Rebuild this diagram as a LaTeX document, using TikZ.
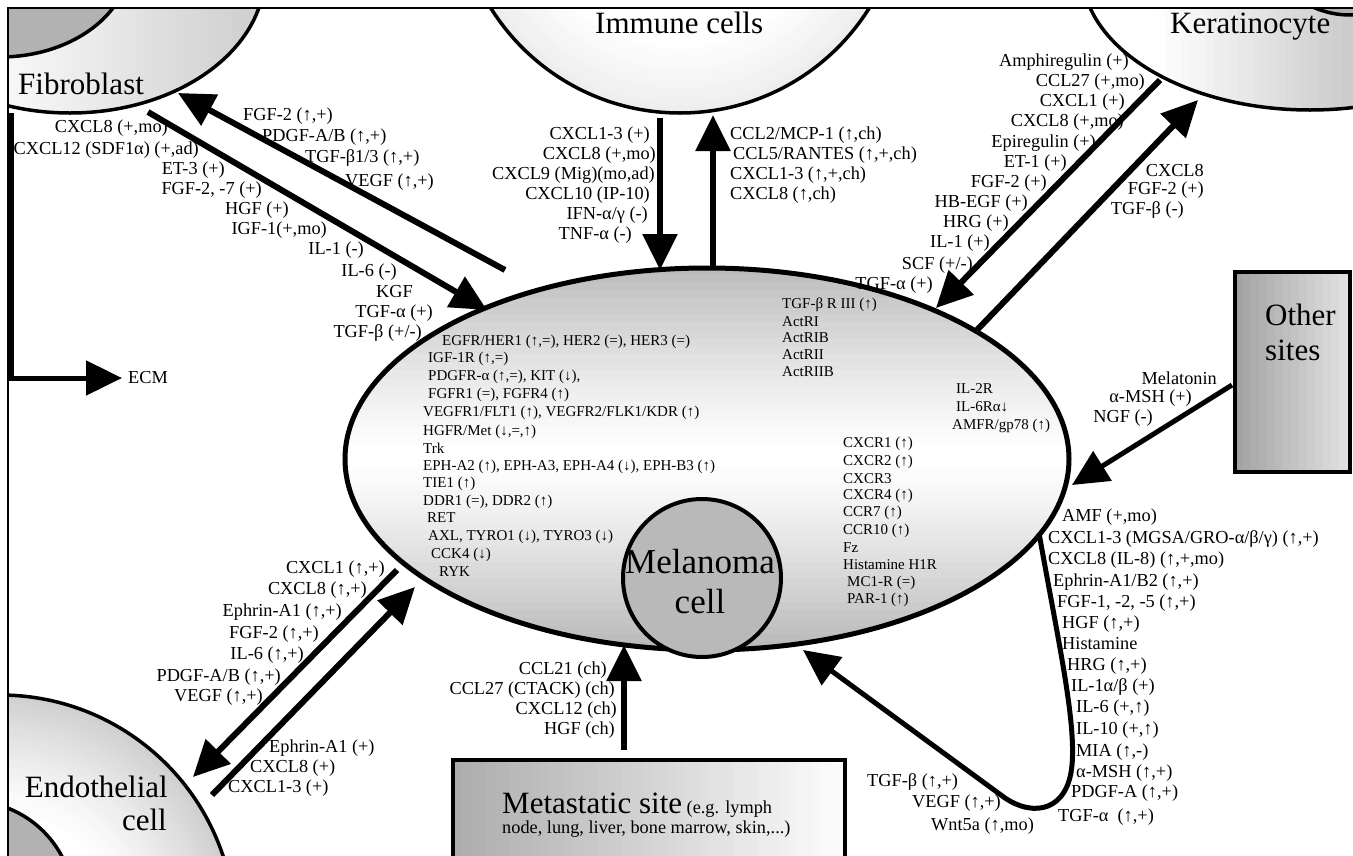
\documentclass[tikz,border=0pt]{standalone}
\usepackage{fontspec}
\setmainfont{Liberation Serif}
\usetikzlibrary{arrows.meta}
\begin{document}
\begin{tikzpicture}[x=1pt,y=-1pt,
  lab/.style={font=\fontsize{18.3}{20}\selectfont, inner sep=0pt},
  sm/.style={font=\fontsize{15}{17}\selectfont, inner sep=0pt},
  big/.style={font=\fontsize{31}{34}\selectfont, inner sep=0pt},
  cellline/.style={draw=black, line width=3.5pt},
  arr/.style={line width=6pt, -{Triangle[length=36pt,width=34pt]}},
]
\useasboundingbox (0,0) rectangle (1353,855);
% ---------- cells (clipped to the frame) ----------
\begin{scope}
\clip (8,8) rectangle (1353,855);
% fibroblast: left-to-right gradient
\begin{scope}
\clip (70,-27) ellipse [x radius=195pt, y radius=140pt];
\foreach \i in {0,...,32} {
  \pgfmathsetmacro\xa{8+\i*8}
  \pgfmathtruncatemacro\p{6+34*\i/32}
  \fill[gray!\p] (\xa,-200) rectangle (\xa+9,130);
}
\end{scope}
\draw[cellline] (70,-27) ellipse [x radius=195pt, y radius=140pt];
\path[cellline, fill=gray!60] (0,-40) ellipse [x radius=130pt, y radius=97pt];
% immune cells: radial gradient
\fill[white] (680,-110) circle [radius=223pt];
\foreach \r in {223,219,...,151} {
  \pgfmathtruncatemacro\p{14*(\r-150)/73}
  \fill[gray!\p] (680,-110) circle [radius=\r pt];
}
\draw[cellline] (680,-110) circle [radius=223pt];
% keratinocyte: left-to-right gradient
\begin{scope}
\clip (1310,-29) ellipse [x radius=228pt, y radius=139pt];
\foreach \i in {0,...,33} {
  \pgfmathsetmacro\xa{1085+\i*8}
  \pgfmathtruncatemacro\p{max(0,42*(\xa-1150)/200)}
  \fill[gray!\p] (\xa,-200) rectangle (\xa+9,130);
}
\end{scope}
\draw[cellline] (1310,-29) ellipse [x radius=228pt, y radius=139pt];
\path[cellline, fill=gray!60] (1350,-75) circle [radius=90pt];
% endothelial: radial gradient
\fill[white] (0,930) circle [radius=235pt];
\foreach \r in {235,231,...,111} {
  \pgfmathtruncatemacro\p{38*((\r-110)/125)^1.3}
  \fill[gray!\p] (0,930) circle [radius=\r pt];
}
\draw[cellline] (0,930) circle [radius=235pt];
\path[cellline, fill=gray!60] (-30,905) circle [radius=104pt];
% metastatic site box
\foreach \i in {0,...,48} {
  \pgfmathsetmacro\xa{453+\i*8}
  \pgfmathtruncatemacro\p{65-62*\i/48}
  \fill[gray!\p] (\xa,760) rectangle (\xa+9,880);
}
\draw[line width=3.5pt] (453,880) -- (453,760) -- (845,760) -- (845,880);
% other sites box
\foreach \i in {0,...,14} {
  \pgfmathsetmacro\xa{1235+\i*8}
  \pgfmathtruncatemacro\p{72-50*\i/14}
  \fill[gray!\p] (\xa,272) rectangle ({min(\xa+9,1350)},472);
}
\draw[line width=4pt] (1235,272) rectangle (1350,472);
\end{scope}
% frame
\draw[line width=1.5pt] (8,860) -- (8,8) -- (1353,8);
% melanoma cell: white band in the middle, grey to top and bottom
\begin{scope}
\clip (707,459) ellipse [x radius=362pt, y radius=191pt];
\foreach \i in {0,...,48} {
  \pgfmathsetmacro\ya{266+\i*8}
  \pgfmathtruncatemacro\p{min(55,55*(abs(\ya+4-455)/190)^1.25)}
  \fill[gray!\p] (340,\ya) rectangle (1075,\ya+9);
}
\end{scope}
\draw[line width=5pt] (707,459) ellipse [x radius=362pt, y radius=191pt];
\path[draw=black, line width=4pt, fill=gray!55] (702,578) circle [radius=79pt];
% ---------- big labels ----------
\node[big, anchor=base west] (tfib) at (18,94) {Fibroblast};
\node[big, anchor=base west] (timm) at (595,33) {Immune cells};
\node[big, anchor=base west] (tker) at (1170,33) {Keratinocyte};
\node[big, anchor=base east] (tend1) at (168,797) {Endothelial};
\node[big, anchor=base east] (tend2) at (167,830) {cell};
\node[font=\fontsize{35}{38}\selectfont, inner sep=0pt, anchor=base] (tmel1) at (700,573) {Melanoma};
\node[font=\fontsize{35}{38}\selectfont, inner sep=0pt, anchor=base] (tmel2) at (700,613) {cell};
\node[big, anchor=base west] (toth1) at (1265,325) {Other};
\node[big, anchor=base west] (toth2) at (1265,360) {sites};
\node[inner sep=0pt, anchor=base west] (tmet1) at (502,813) {{\fontsize{31}{34}\selectfont Metastatic site}{\fontsize{18.3}{20}\selectfont\ (e.g. lymph}};
\node[lab, anchor=base west] (tmet2) at (502,833) {node, lung, liver, bone marrow, skin,...)};
% ---------- connector end points ----------
\coordinate (f1s) at (505,270); \coordinate (f1e) at (178,93);
\coordinate (f2s) at (148,112); \coordinate (f2e) at (487,310);
\coordinate (ecms) at (11,113); \coordinate (ecme) at (122,378);
\coordinate (i1s) at (660,118); \coordinate (i1e) at (660,270);
\coordinate (i2s) at (713,268); \coordinate (i2e) at (713,115);
\coordinate (k1s) at (1160,80); \coordinate (k1e) at (936,308);
\coordinate (k2s) at (977,330); \coordinate (k2e) at (1198,100);
\coordinate (os) at (1232,385); \coordinate (oe) at (1072,485);
\coordinate (e1s) at (397,570); \coordinate (e1e) at (193,777);
\coordinate (e2s) at (212,795); \coordinate (e2e) at (415,587);
\coordinate (ms) at (624,750); \coordinate (me) at (624,645);
\coordinate (lp0) at (1039,533); \coordinate (lp1) at (1072,765);
\coordinate (lp2) at (1005,798); \coordinate (lpe) at (803,650);
% ---------- connectors ----------
\draw[arr] (f1s) -- (f1e);
\draw[arr] (f2s) -- (f2e);
\draw[arr, line width=5pt] (ecms) |- (ecme);
\draw[arr] (i1s) -- (i1e);
\draw[arr] (i2s) -- (i2e);
\draw[arr] (k1s) -- (k1e);
\draw[arr] (k2s) -- (k2e);
\draw[arr, line width=5pt] (os) -- (oe);
\draw[arr] (e1s) -- (e1e);
\draw[arr] (e2s) -- (e2e);
\draw[arr] (ms) -- (me);
\draw[arr, line width=5pt] (lp0) .. controls (1058,640) and (1076,720) .. (lp1) .. controls (1068,810) and (1035,818) .. (lp2) -- (lpe);
% ---------- fibroblast labels ----------
\node[lab, anchor=west] (ecm) at (128,378) {ECM};
\node[lab, anchor=east] (fa1) at (168,128) {CXCL8 (+,mo)};
\node[lab, anchor=east] (fa2) at (199,150) {CXCL12 (SDF1α) (+,ad)};
\node[lab, anchor=east] (fa3) at (225,170) {ET-3 (+)};
\node[lab, anchor=east] (fa4) at (262,190) {FGF-2, -7 (+)};
\node[lab, anchor=east] (fa5) at (289,210) {HGF (+)};
\node[lab, anchor=east] (fa6) at (327,230) {IGF-1(+,mo)};
\node[lab, anchor=east] (fa7) at (364,250) {IL-1 (-)};
\node[lab, anchor=east] (fa8) at (397,272) {IL-6 (-)};
\node[lab, anchor=east] (fa9) at (413,292) {KGF};
\node[lab, anchor=east] (fa10) at (433,313) {TGF-α (+)};
\node[lab, anchor=east] (fa11) at (422,333) {TGF-β (+/-)};
\node[lab, anchor=west] (fb1) at (243,116) {FGF-2 (↑,+)};
\node[lab, anchor=west] (fb2) at (262,137) {PDGF-A/B (↑,+)};
\node[lab, anchor=west] (fb3) at (305,158) {TGF-β1/3 (↑,+)};
\node[lab, anchor=west] (fb4) at (345,182) {VEGF (↑,+)};
% ---------- immune labels ----------
\node[lab, anchor=east] (ia1) at (650,135) {CXCL1-3 (+)};
\node[lab, anchor=east] (ia2) at (656,155) {CXCL8 (+,mo)};
\node[lab, anchor=east] (ia3) at (655,175) {CXCL9 (Mig)(mo,ad)};
\node[lab, anchor=east] (ia4) at (650,195) {CXCL10 (IP-10)};
\node[lab, anchor=east] (ia5) at (648,215) {IFN-α/γ (-)};
\node[lab, anchor=east] (ia6) at (632,235) {TNF-α (-)};
\node[lab, anchor=west] (ib1) at (730,135) {CCL2/MCP-1 (↑,ch)};
\node[lab, anchor=west] (ib2) at (733,155) {CCL5/RANTES (↑,+,ch)};
\node[lab, anchor=west] (ib3) at (730,175) {CXCL1-3 (↑,+,ch)};
\node[lab, anchor=west] (ib4) at (730,195) {CXCL8 (↑,ch)};
% ---------- keratinocyte labels ----------
\node[lab, anchor=east] (ka1) at (1129,62) {Amphiregulin (+)};
\node[lab, anchor=east] (ka2) at (1145,82) {CCL27 (+,mo)};
\node[lab, anchor=east] (ka3) at (1125,102) {CXCL1 (+)};
\node[lab, anchor=east] (ka4) at (1124,122) {CXCL8 (+,mo)};
\node[lab, anchor=east] (ka5) at (1096,143) {Epiregulin (+)};
\node[lab, anchor=east] (ka6) at (1067,163) {ET-1 (+)};
\node[lab, anchor=east] (ka7) at (1047,183) {FGF-2 (+)};
\node[lab, anchor=east] (ka8) at (1028,203) {HB-EGF (+)};
\node[lab, anchor=east] (ka9) at (1009,223) {HRG (+)};
\node[lab, anchor=east] (ka10) at (990,243) {IL-1 (+)};
\node[lab, anchor=east] (ka11) at (973,265) {SCF (+/-)};
\node[lab, anchor=east] (ka12) at (933,285) {TGF-α (+)};
\node[lab, anchor=east] (kb1) at (1204,170) {CXCL8};
\node[lab, anchor=east] (kb2) at (1204,190) {FGF-2 (+)};
\node[lab, anchor=east] (kb3) at (1184,210) {TGF-β (-)};
% ---------- other sites labels ----------
\node[lab, anchor=east] (oa1) at (1217,378) {Melatonin};
\node[lab, anchor=east] (oa2) at (1192,398) {α-MSH (+)};
\node[lab, anchor=east] (oa3) at (1153,418) {NGF (-)};
% ---------- endothelial labels ----------
\node[lab, anchor=east] (ea1) at (385,569) {CXCL1 (↑,+)};
\node[lab, anchor=east] (ea2) at (367,590) {CXCL8 (↑,+)};
\node[lab, anchor=east] (ea3) at (342,612) {Ephrin-A1 (↑,+)};
\node[lab, anchor=east] (ea4) at (319,634) {FGF-2 (↑,+)};
\node[lab, anchor=east] (ea5) at (304,655) {IL-6 (↑,+)};
\node[lab, anchor=east] (ea6) at (281,677) {PDGF-A/B (↑,+)};
\node[lab, anchor=east] (ea7) at (263,697) {VEGF (↑,+)};
\node[lab, anchor=west] (eb1) at (269,748) {Ephrin-A1 (+)};
\node[lab, anchor=west] (eb2) at (250,768) {CXCL8 (+)};
\node[lab, anchor=west] (eb3) at (228,788) {CXCL1-3 (+)};
% ---------- metastatic labels ----------
\node[lab, anchor=east] (ma1) at (607,670) {CCL21 (ch)};
\node[lab, anchor=east] (ma2) at (615,690) {CCL27 (CTACK) (ch)};
\node[lab, anchor=east] (ma3) at (617,710) {CXCL12 (ch)};
\node[lab, anchor=east] (ma4) at (615,730) {HGF (ch)};
% ---------- autocrine labels ----------
\node[lab, anchor=west] (aa1) at (1062,517) {AMF (+,mo)};
\node[lab, anchor=west] (aa2) at (1048,539) {CXCL1-3 (MGSA/GRO-α/β/γ) (↑,+)};
\node[lab, anchor=west] (aa3) at (1048,560) {CXCL8 (IL-8) (↑,+,mo)};
\node[lab, anchor=west] (aa4) at (1053,582) {Ephrin-A1/B2 (↑,+)};
\node[lab, anchor=west] (aa5) at (1057,603) {FGF-1, -2, -5 (↑,+)};
\node[lab, anchor=west] (aa6) at (1062,624) {HGF (↑,+)};
\node[lab, anchor=west] (aa7) at (1062,644) {Histamine};
\node[lab, anchor=west] (aa8) at (1067,666) {HRG (↑,+)};
\node[lab, anchor=west] (aa9) at (1071,687) {IL-1α/β (+)};
\node[lab, anchor=west] (aa10) at (1076,708) {IL-6 (+,↑)};
\node[lab, anchor=west] (aa11) at (1076,730) {IL-10 (+,↑)};
\node[lab, anchor=west] (aa12) at (1076,752) {MIA (↑,-)};
\node[lab, anchor=west] (aa13) at (1076,773) {α-MSH (↑,+)};
\node[lab, anchor=west] (aa14) at (1071,793) {PDGF-A (↑,+)};
\node[lab, anchor=west] (aa15) at (1058,817) {TGF-α\ \ (↑,+)};
\node[lab, anchor=west] (ab1) at (867,782) {TGF-β (↑,+)};
\node[lab, anchor=west] (ab2) at (912,803) {VEGF (↑,+)};
\node[lab, anchor=west] (ab3) at (931,826) {Wnt5a (↑,mo)};
% ---------- receptors ----------
\node[sm, anchor=west] (r1) at (442,342) {EGFR/HER1 (↑,=), HER2 (=), HER3 (=)};
\node[sm, anchor=west] (r2) at (428,359) {IGF-1R (↑,=)};
\node[sm, anchor=west] (r3) at (428,377) {PDGFR-α (↑,=), KIT (↓),};
\node[sm, anchor=west] (r4) at (428,395) {FGFR1 (=), FGFR4 (↑)};
\node[sm, anchor=west] (r5) at (423,413) {VEGFR1/FLT1 (↑), VEGFR2/FLK1/KDR (↑)};
\node[sm, anchor=west] (r6) at (423,432) {HGFR/Met (↓,=,↑)};
\node[sm, anchor=west] (r7) at (423,448) {Trk};
\node[sm, anchor=west] (r8) at (423,467) {EPH-A2 (↑), EPH-A3, EPH-A4 (↓), EPH-B3 (↑)};
\node[sm, anchor=west] (r9) at (423,484) {TIE1 (↑)};
\node[sm, anchor=west] (r10) at (423,502) {DDR1 (=), DDR2 (↑)};
\node[sm, anchor=west] (r11) at (427,518) {RET};
\node[sm, anchor=west] (r12) at (428,537) {AXL, TYRO1 (↓), TYRO3 (↓)};
\node[sm, anchor=west] (r13) at (431,555) {CCK4 (↓)};
\node[sm, anchor=west] (r14) at (439,572) {RYK};
\node[sm, anchor=west] (s1) at (782,305) {TGF-β R III (↑)};
\node[sm, anchor=west] (s2) at (782,322) {ActRI};
\node[sm, anchor=west] (s3) at (782,338) {ActRIB};
\node[sm, anchor=west] (s4) at (782,355) {ActRII};
\node[sm, anchor=west] (s5) at (782,372) {ActRIIB};
\node[sm, anchor=west] (s6) at (956,389) {IL-2R};
\node[sm, anchor=west] (s7) at (956,407) {IL-6Rα↓};
\node[sm, anchor=west] (s8) at (952,426) {AMFR/gp78 (↑)};
\node[sm, anchor=west] (c1) at (843,444) {CXCR1 (↑)};
\node[sm, anchor=west] (c2) at (843,462) {CXCR2 (↑)};
\node[sm, anchor=west] (c3) at (843,479) {CXCR3};
\node[sm, anchor=west] (c4) at (843,496) {CXCR4 (↑)};
\node[sm, anchor=west] (c5) at (843,513) {CCR7 (↑)};
\node[sm, anchor=west] (c6) at (843,531) {CCR10 (↑)};
\node[sm, anchor=west] (c7) at (843,548) {Fz};
\node[sm, anchor=west] (c8) at (843,565) {Histamine H1R};
\node[sm, anchor=west] (c9) at (847,583) {MC1-R (=)};
\node[sm, anchor=west] (c10) at (847,600) {PAR-1 (↑)};
\end{tikzpicture}
\end{document}
